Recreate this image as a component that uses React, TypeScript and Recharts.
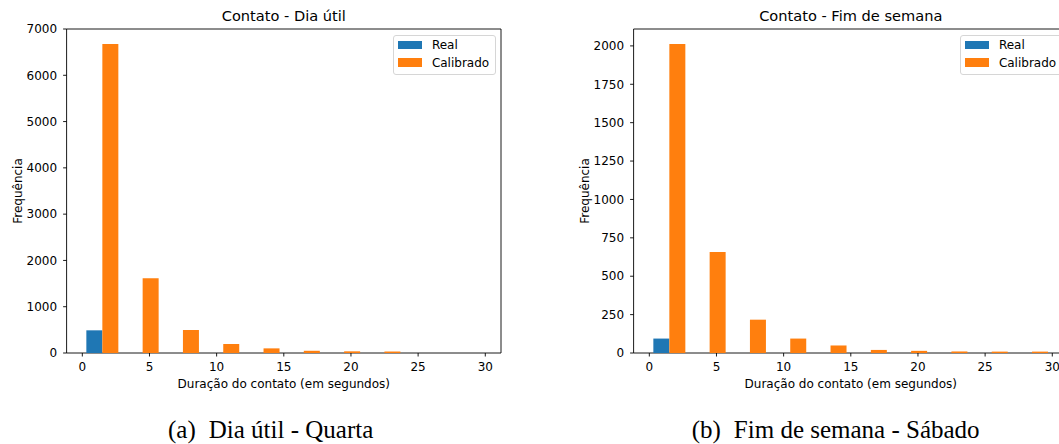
import React from 'react';
import { BarChart, Bar, XAxis, YAxis, ReferenceArea, Legend } from 'recharts';

// bin centres of the histogram (bins of 3 s, from 0 to 30)
const binCenters = [1.5, 4.5, 7.5, 10.5, 13.5, 16.5, 19.5, 22.5, 25.5, 28.5];

const realDiaUtil = [490, 0, 0, 0, 0, 0, 0, 0, 0, 0];
const calibradoDiaUtil = [6675, 1614, 497, 194, 100, 48, 36, 32, 0, 0];

const realFimSemana = [94, 0, 0, 0, 0, 0, 0, 0, 0, 0];
const calibradoFimSemana = [2013, 658, 217, 94, 49, 20, 14, 10, 9, 9];

const seriesNames = ['Real', 'Calibrado'];
const xTicks = [0, 5, 10, 15, 20, 25, 30];
const yTicksDiaUtil = [0, 1000, 2000, 3000, 4000, 5000, 6000, 7000];
const yTicksFimSemana = [0, 250, 500, 750, 1000, 1250, 1500, 1750, 2000];

const X_DOMAIN: [number, number] = [-1.17, 31.17];
const FONT = '"DejaVu Sans", sans-serif';
const BLUE = '#1f77b4';
const ORANGE = '#ff7f0e';

const CHART_W = 520;
const CHART_H = 400;
const Y_AXIS_W = 66.6;
const X_AXIS_H = 47;
const MARGIN = { top: 29, right: 19, left: 0, bottom: 0 };

const buildRows = (real: number[], calibrado: number[]) =>
  binCenters.map((mid, i) => ({ mid, real: real[i], calibrado: calibrado[i] }));

const YLabel = (props: any) => {
  const { viewBox } = props;
  const x = viewBox.x + 22;
  const y = viewBox.y + viewBox.height / 2;
  return (
    <text x={x} y={y} transform={`rotate(-90 ${x} ${y})`} textAnchor="middle" fontFamily={FONT} fontSize={12} fill="#000">
      Frequência
    </text>
  );
};

const XLabel = (props: any) => {
  const { viewBox } = props;
  return (
    <text x={viewBox.x + viewBox.width / 2} y={viewBox.y + 34.7} textAnchor="middle" fontFamily={FONT} fontSize={12} fill="#000">
      Duração do contato (em segundos)
    </text>
  );
};

const LegendBox = (props: any) => {
  const items = [...(props.payload || [])].sort(
    (a: any, b: any) => seriesNames.indexOf(a.value) - seriesNames.indexOf(b.value)
  );
  return (
    <div
      style={{
        boxSizing: 'border-box',
        width: 103.4,
        height: 40,
        border: '1px solid #d6d6d6',
        borderRadius: 3,
        background: 'rgba(255,255,255,0.8)',
        padding: '0px 4px 3px 4px',
        fontFamily: FONT,
        fontSize: 12,
        color: '#000',
      }}
    >
      {items.map((entry: any) => (
        <div key={entry.value} style={{ display: 'flex', alignItems: 'center', height: 17.8 }}>
          <span style={{ display: 'inline-block', width: 24.4, height: 8.5, background: entry.color, marginRight: 10 }} />
          <span>{entry.value}</span>
        </div>
      ))}
    </div>
  );
};

interface PanelProps {
  title: string;
  real: number[];
  calibrado: number[];
  yMax: number;
  yTicks: number[];
  left: number;
}

const Panel: React.FC<PanelProps> = ({ title, real, calibrado, yMax, yTicks, left }) => {
  const data = buildRows(real, calibrado);
  const plotW = CHART_W - MARGIN.right - Y_AXIS_W;
  return (
    <div style={{ position: 'absolute', left, top: 0 }}>
      <BarChart
        width={CHART_W}
        height={CHART_H}
        data={data}
        margin={MARGIN}
        barCategoryGap="10%"
        barGap={0}
      >
        <text x={Y_AXIS_W + plotW / 2} y={20.7} textAnchor="middle" fontFamily={FONT} fontSize={14.6} fill="#000">
          {title}
        </text>
        <XAxis
          dataKey="mid"
          type="number"
          domain={X_DOMAIN}
          ticks={xTicks}
          interval={0}
          height={X_AXIS_H}
          axisLine={false}
          tickLine={{ stroke: '#000', strokeWidth: 0.9 }}
          tickSize={3.5}
          tickMargin={6}
          tick={{ fontFamily: FONT, fontSize: 12, fill: '#000' }}
          label={<XLabel />}
        />
        <YAxis
          type="number"
          domain={[0, yMax]}
          ticks={yTicks}
          interval={0}
          width={Y_AXIS_W}
          axisLine={false}
          tickLine={{ stroke: '#000', strokeWidth: 0.9 }}
          tickSize={3.5}
          tickMargin={6}
          tick={{ fontFamily: FONT, fontSize: 12, fill: '#000' }}
          label={<YLabel />}
        />
        <Bar dataKey="real" name={seriesNames[0]} fill={BLUE} isAnimationActive={false} />
        <Bar dataKey="calibrado" name={seriesNames[1]} fill={ORANGE} isAnimationActive={false} />
        <ReferenceArea
          x1={X_DOMAIN[0]}
          x2={X_DOMAIN[1]}
          y1={0}
          y2={yMax}
          fill="none"
          fillOpacity={0}
          stroke="#000"
          strokeWidth={0.9}
          ifOverflow="visible"
        />
        <Legend
          layout="vertical"
          align="center"
          verticalAlign="middle"
          itemSorter={null as any}
          content={<LegendBox />}
          wrapperStyle={{ position: 'absolute', left: 392.5, top: 35, width: 'auto' }}
        />
      </BarChart>
    </div>
  );
};

const captionStyle: React.CSSProperties = {
  position: 'absolute',
  top: 417,
  fontFamily: '"Liberation Serif", "Times New Roman", serif',
  fontSize: 25,
  lineHeight: 1,
  whiteSpace: 'nowrap',
  color: '#000',
};

export default function App() {
  return (
    <div
      style={{
        position: 'absolute',
        left: 0,
        top: 0,
        width: 1059,
        height: 444,
        overflow: 'hidden',
        background: '#fff',
      }}
    >
      <Panel
        title="Contato - Dia útil"
        real={realDiaUtil}
        calibrado={calibradoDiaUtil}
        yMax={7000}
        yTicks={yTicksDiaUtil}
        left={0}
      />
      <Panel
        title="Contato - Fim de semana"
        real={realFimSemana}
        calibrado={calibradoFimSemana}
        yMax={2110}
        yTicks={yTicksFimSemana}
        left={567}
      />
      <div style={{ ...captionStyle, left: 168 }}>
        <span style={{ marginRight: 13 }}>(a)</span>Dia útil - Quarta
      </div>
      <div style={{ ...captionStyle, left: 691.7 }}>
        <span style={{ marginRight: 13 }}>(b)</span>Fim de semana - Sábado
      </div>
    </div>
  );
}
